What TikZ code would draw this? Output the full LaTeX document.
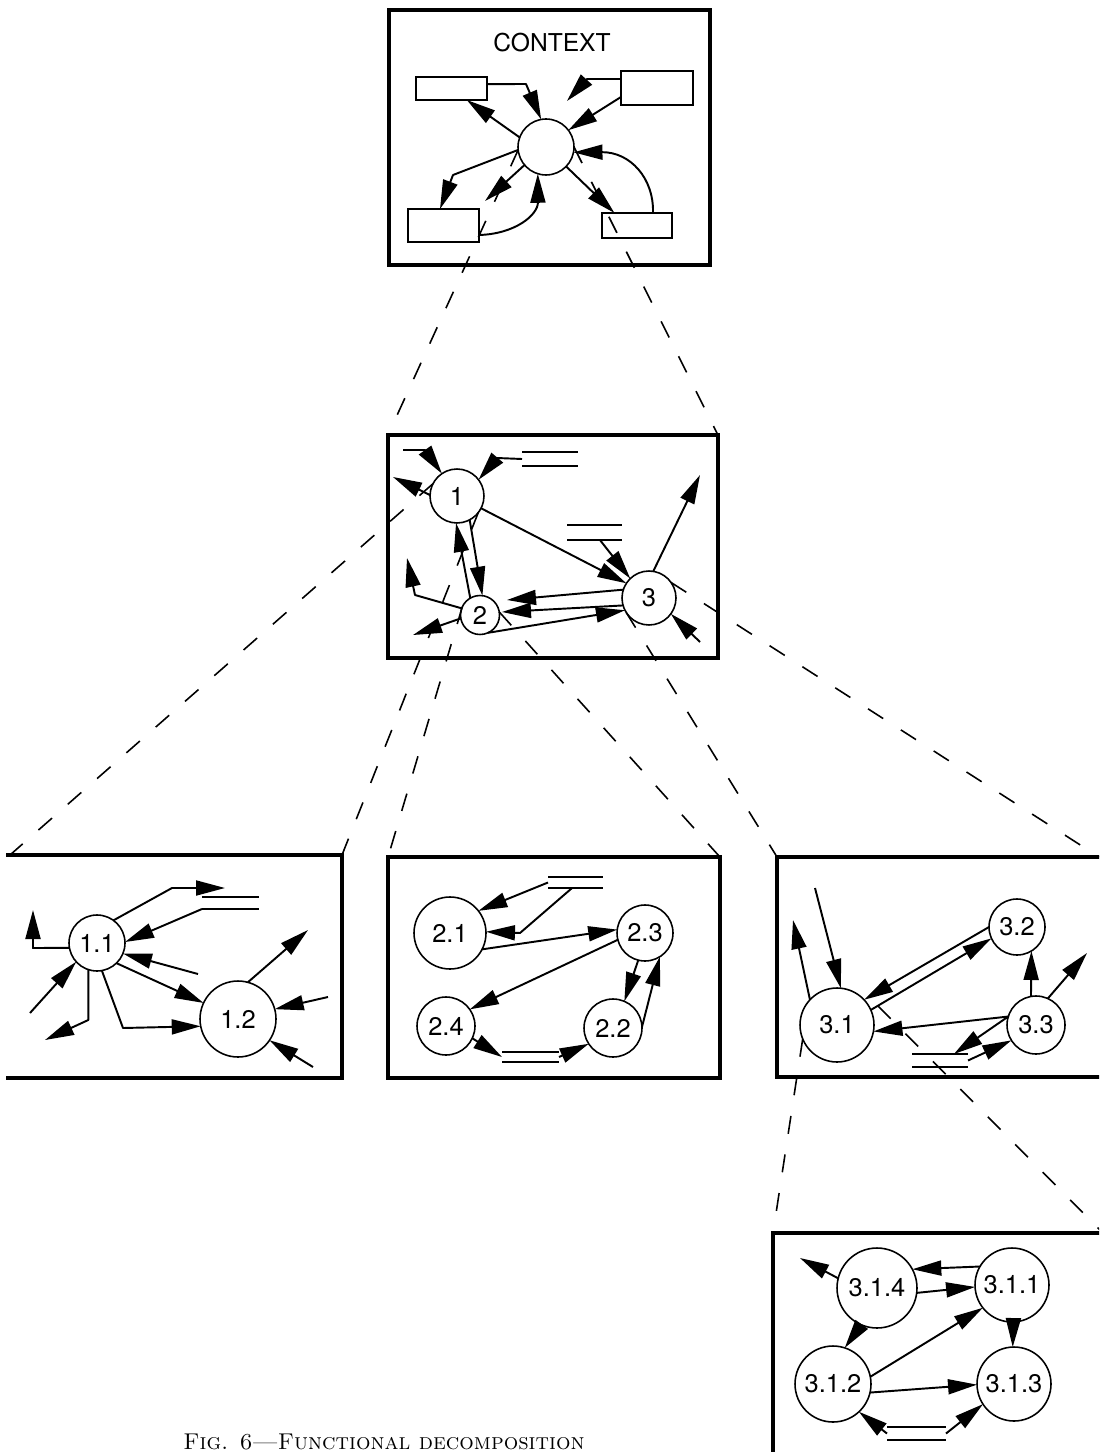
\documentclass[tikz,border=0pt]{standalone}
\usepackage{fontspec}
\newfontfamily\heros{TeX Gyre Heros}
\usetikzlibrary{arrows.meta}
\begin{document}
\begin{tikzpicture}[x=0.02cm,y=-0.02cm,
  frame/.style={draw, line width=2pt, inner sep=0pt, outer sep=0pt, line join=miter},
  ext/.style={draw, line width=1pt, inner sep=0pt, outer sep=0pt},
  proc/.style={circle, draw, fill=white, line width=0.9pt, inner sep=0pt, outer sep=0pt, font=\heros\fontsize{14.5}{14.5}\selectfont},
  flow/.style={line width=1.1pt, line join=round, -{Triangle[length=0.58cm,width=0.3cm]}},
  storebox/.style={inner sep=0pt, outer sep=0pt},
  store/.style={line width=1pt},
  link/.style={line width=0.9pt, dash pattern=on 0.36cm off 0.42cm}]
\useasboundingbox (0,0) rectangle (1099,1452);
\clip (0,0) rectangle (1099,1452);
\fill[white] (0,0) rectangle (1099,1452);

% ---------- frames ----------
\node[frame, minimum width=6.42cm, minimum height=5.1cm] (tbox) at (549.5,137.5) {};
\node[frame, minimum width=6.6cm, minimum height=4.46cm] (mbox) at (553,546.5) {};
\node[frame, minimum width=6.64cm, minimum height=4.42cm] (b2) at (554,967.5) {};
\coordinate (b1nw) at (10,855);
\coordinate (b1ne) at (342,855);
\coordinate (b3nw) at (777,857);
\coordinate (b3ne) at (1099,857);
\coordinate (b4nw) at (773,1233);
\coordinate (b4ne) at (1103,1233);
\draw[frame] (6,855) -- (b1ne) -- (342,1078) -- (6,1078);
\draw[frame] (1110,857) -- (b3nw) -- (777,1077) -- (1110,1077);
\draw[frame] (773,1470) -- (b4nw) -- (1110,1233);

% ---------- context ----------
\node[font=\heros\fontsize{14}{14}\selectfont, inner sep=0pt] (ctx) at (552,42.5) {CONTEXT};
\node[proc, minimum size=1.12cm] (c0) at (546,147) {};
\node[ext, minimum width=1.42cm, minimum height=0.46cm] (r1) at (451.5,88.5) {};
\node[ext, minimum width=1.44cm, minimum height=0.68cm] (r2) at (657,88) {};
\node[ext, minimum width=1.42cm, minimum height=0.66cm] (r3) at (443.5,225.5) {};
\node[ext, minimum width=1.40cm, minimum height=0.50cm] (r4) at (637,225.5) {};

% ---------- level 1 ----------
\node[proc, minimum size=1.08cm] (c1) at (457,496) {1};
\node[proc, minimum size=0.78cm] (c2) at (480,615) {2};
\node[proc, minimum size=1.08cm] (c3) at (649,598) {3};
\node[storebox, minimum width=1.12cm, minimum height=0.28cm] (s1) at (550,459) {};
\node[storebox, minimum width=1.10cm, minimum height=0.30cm] (s2) at (594.5,532.5) {};

% ---------- level 2 ----------
\node[proc, minimum size=1.12cm] (c11) at (97,943) {1.1};
\node[proc, minimum size=1.52cm] (c12) at (238,1019) {1.2};
\node[storebox, minimum width=1.14cm, minimum height=0.24cm] (s7) at (230.5,903) {};

\node[proc, minimum size=1.44cm] (c21) at (450,933) {2.1};
\node[proc, minimum size=1.12cm] (c23) at (645,933) {2.3};
\node[proc, minimum size=1.16cm] (c24) at (446,1026) {2.4};
\node[proc, minimum size=1.16cm] (c22) at (613,1028) {2.2};
\node[storebox, minimum width=1.10cm, minimum height=0.22cm] (s3) at (575.5,882.5) {};
\node[storebox, minimum width=1.14cm, minimum height=0.20cm] (s4) at (530.5,1057) {};

\node[proc, minimum size=1.48cm] (c31) at (837,1025) {3.1};
\node[proc, minimum size=1.12cm] (c32) at (1017,927) {3.2};
\node[proc, minimum size=1.16cm] (c33) at (1036,1025) {3.3};
\node[storebox, minimum width=1.12cm, minimum height=0.26cm] (s5) at (940,1060.5) {};

% ---------- level 3 ----------
\node[proc, minimum size=1.6cm] (c314) at (877,1288) {3.1.4};
\node[proc, minimum size=1.48cm] (c311) at (1012,1285) {3.1.1};
\node[proc, minimum size=1.52cm] (c312) at (833,1384) {3.1.2};
\node[proc, minimum size=1.48cm] (c313) at (1014,1384) {3.1.3};
\node[storebox, minimum width=1.18cm, minimum height=0.26cm] (s6) at (916.5,1433.5) {};

\foreach \s in {s1,s2,s3,s4,s5,s6,s7}
  \draw[store] (\s.north west) -- (\s.north east) (\s.south west) -- (\s.south east);

% ---------- decomposition links ----------
\coordinate (h0) at (878,1006);
\draw[link] (c0.186) -- (mbox.north west);
\draw[link] (c0.0) -- (mbox.north east);
\draw[link] (c1.153) -- (b1nw);
\draw[link] (c1.-38) -- (b1ne);
\draw[link] (c2.155) -- (b2.north west);
\draw[link] (c2.9) -- (b2.north east);
\draw[link] (c3.212) -- (b3nw);
\draw[link] (c3.35) -- (b3ne);
\draw[link] (c31.202) -- (b4nw);
\draw[link] (h0) -- (b4ne);

% ---------- context flows ----------
\coordinate (t2) at (567,101);
\coordinate (t6) at (485,201);
\draw[flow] (r1.7) -- (526,84) -- (c0.100);
\draw[flow] (r2.166) -- (587,79) -- (t2);
\draw[flow] (r2.194) -- (c0.37);
\draw[flow] (c0.160) -- (r1.-37);
\draw[flow] (c0.186) -- (453,175) -- (r3.102);
\draw[flow] (c0.220) -- (t6);
\draw[flow] (r3.-15) .. controls (515,234) and (538,215) .. (c0.253);
\draw[flow] (c0.-44) -- (r4.151);
\draw[flow] (r4.38) .. controls (654,178) and (630,152) .. (c0.-11);

% ---------- level 1 flows ----------
\coordinate (mi1) at (403,450);
\coordinate (mo1) at (393,477);
\coordinate (mo2a) at (407,558);
\coordinate (mo2b) at (413,635);
\coordinate (mj1) at (507,600);
\coordinate (mj2) at (502,612);
\coordinate (mo3) at (700,475);
\coordinate (mi3) at (700,642);
\draw[flow] (mi1) -- (425,450) -- (c1.124);
\draw[flow] (s1.west) -- (497,458) -- (c1.37);
\draw[flow] (c1.178) -- (mo1);
\draw[flow] (c1.-27) -- (c3.147);
\draw[flow] (c1.-62) -- (c2.83);
\draw[flow] (c2.120) -- (c1.-92);
\draw[flow] (c2.160) -- (415,595) -- (mo2a);
\draw[flow] (c2.190) -- (mo2b);
\draw[flow] (c3.162) -- (mj1);
\draw[flow] (c3.196) -- (mj2);
\draw[flow] (c2.-66) -- (c3.207);
\draw[flow] (c3.81) -- (mo3);
\draw[flow] (mi3) -- (c3.-36);
\draw[flow] (s2.-54) -- (c3.134);

% ---------- 1.x flows ----------
\coordinate (p1a) at (225,888);
\coordinate (p1g) at (33,910);
\coordinate (p1h) at (30,1013);
\coordinate (p1i) at (45,1040);
\coordinate (p1d) at (198,974);
\coordinate (p1j) at (308,930);
\coordinate (p1k) at (328,997);
\coordinate (p1l) at (313,1067);
\draw[flow] (c11.54) -- (172,888) -- (p1a);
\draw[flow] (s7.south west) -- (c11.2);
\draw[flow] (p1d) -- (c11.-22);
\draw[flow] (c11.-46) -- (c12.155);
\draw[flow] (c11.-80) -- (123,1028) -- (c12.191);
\draw[flow] (c11.190) -- (33,948) -- (p1g);
\draw[flow] (p1h) -- (c11.222);
\draw[flow] (c11.-108) -- (88.3,1020) -- (p1i);
\draw[flow] (c12.75) -- (p1j);
\draw[flow] (p1k) -- (c12.15);
\draw[flow] (p1l) -- (c12.-34);

% ---------- 2.x flows ----------
\draw[flow] (s3.west) -- (c21.38);
\draw[flow] (s3.-122) -- (520,933) -- (c21.2);
\draw[flow] (c21.-27) -- (c23.173);
\draw[flow] (c23.194) -- (c24.35);
\draw[flow] (c23.256) -- (c22.67);
\draw[flow] (c22.2) -- (c23.-58);
\draw[flow] (c24.-25) -- (s4.west);
\draw[flow] (s4.east) -- (c22.213);

% ---------- 3.x flows ----------
\coordinate (q1a) at (815,888);
\coordinate (q1b) at (793,920);
\coordinate (q3f) at (1087,953);
\draw[flow] (q1a) -- (c31.84);
\draw[flow] (c31.137) -- (q1b);
\draw[flow] (c32.180) -- (c31.43);
\draw[flow] (c31.24) -- (c32.204);
\draw[flow] (c33.100) -- (c32.-59);
\draw[flow] (c33.66) -- (q3f);
\draw[flow] (c33.163) -- (c31.-10);
\draw[flow] (c33.163) -- (s5.25);
\draw[flow] (s5.east) -- (c33.212);

% ---------- 3.1.x flows ----------
\coordinate (u1) at (800,1258);
\draw[flow] (c314.166) -- (u1);
\draw[flow] (c311.150) -- (c314.28);
\draw[flow] (c314.-7) -- (c311.183);
\draw[flow] (c314.247) -- (c312.72);
\draw[flow] (c312.11) -- (c311.218);
\draw[flow] (c312.-13) -- (c313.181);
\draw[flow] (s6.west) -- (c312.-47);
\draw[flow] (s6.east) -- (c313.213);
\draw[flow] (c311.-88) -- (c313.92);

% ---------- caption ----------
\node[anchor=base west, inner sep=0pt, font=\fontsize{13}{13}\selectfont] (cap) at (183,1449) {\textsc{Fig. 6---Functional decomposition}};
\end{tikzpicture}
\end{document}
